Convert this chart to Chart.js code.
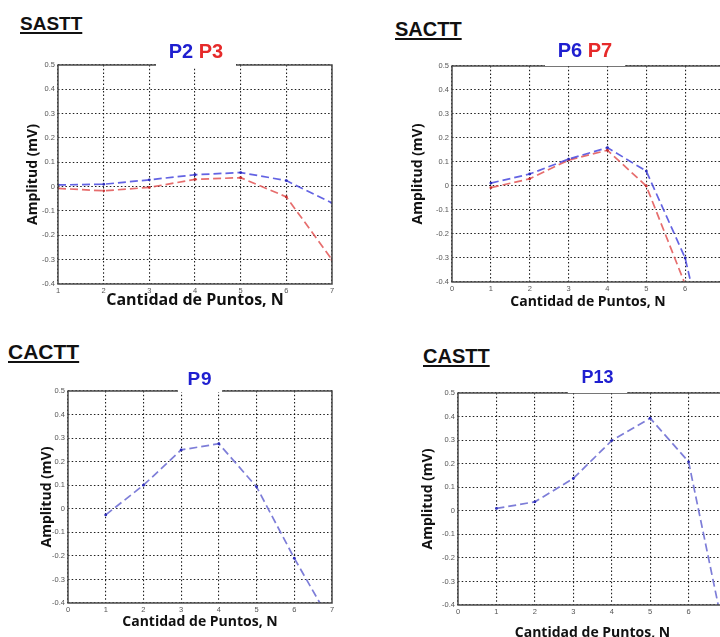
<!DOCTYPE html>
<html>
<head>
<meta charset="utf-8">
<script src="https://cdn.jsdelivr.net/npm/chart.js@4.4.1/dist/chart.umd.min.js"></script>
<style>
  html, body { margin:0; padding:0; background:#fff; }
  body { width:720px; height:637px; overflow:hidden; position:relative; }
  .box { position:absolute; }
  .head { position:absolute; font-family:"Liberation Sans", Arial, sans-serif; font-weight:bold; color:#111; text-decoration:underline; text-decoration-thickness:2px; text-underline-offset:2px; white-space:nowrap; z-index:5; }
  .lbl { position:absolute; background:#fff; font-family:"Liberation Sans", Arial, sans-serif; font-weight:bold; text-align:center; white-space:nowrap; z-index:5; }
  .b { color:#1f1fd0; }
  .r { color:#e62a2a; }
</style>
</head>
<body>
<div class="head" style="left:20px;top:14px;font-size:19px;line-height:19px;">SASTT</div>
<div class="head" style="left:395px;top:19px;font-size:20px;line-height:20px;">SACTT</div>
<div class="head" style="left:8px;top:341px;font-size:21px;line-height:21px;">CACTT</div>
<div class="head" style="left:423px;top:346px;font-size:20px;line-height:20px;">CASTT</div>

<div class="lbl" style="left:156px;top:41px;width:80px;height:25.5px;font-size:20px;line-height:20px;"><span class="b">P2</span> <span class="r">P3</span></div>
<div class="lbl" style="left:545px;top:40px;width:80px;height:25.5px;font-size:20px;line-height:20px;"><span class="b">P6</span> <span class="r">P7</span></div>
<div class="lbl" style="left:178px;top:369px;width:44px;height:22.5px;font-size:19px;line-height:19px;letter-spacing:1px;"><span class="b">P9</span></div>
<div class="lbl" style="left:568px;top:368px;width:59px;height:25px;font-size:18px;line-height:18px;"><span class="b">P13</span></div>

<div class="box" style="left:0px;top:57px;width:340px;height:253px;"><canvas id="c1"></canvas></div>
<div class="box" style="left:392px;top:58px;width:340px;height:254px;"><canvas id="c2"></canvas></div>
<div class="box" style="left:0px;top:383px;width:340px;height:249px;"><canvas id="c3"></canvas></div>
<div class="box" style="left:398px;top:384.5px;width:337px;height:258.5px;"><canvas id="c4"></canvas></div>

<script>
// ---------- data ----------
const N = [1, 2, 3, 4, 5, 6, 7];            // Cantidad de Puntos, N

// SASTT
const P2  = [0.007, 0.010, 0.028, 0.049, 0.058, 0.025, -0.067];
const P3  = [-0.007, -0.017, -0.003, 0.030, 0.037, -0.042, -0.300];
// SACTT
const P6  = [0.012, 0.050, 0.112, 0.160, 0.062, -0.300, -1.000];
const P7  = [-0.007, 0.030, 0.108, 0.149, 0.000, -0.410, -1.200];
// CACTT
const P9  = [-0.026, 0.100, 0.250, 0.276, 0.093, -0.210, -0.490];
// CASTT
const P13 = [0.010, 0.038, 0.137, 0.298, 0.393, 0.208, -0.580];

const Y_MIN = -0.4, Y_MAX = 0.5, Y_STEP = 0.1;
const X_RANGE_SASTT = [1, 7];
const X_RANGE_OTHERS = [0, 7];
const X_STEP = 1;

const X_TITLE = "Cantidad de Puntos, N";
const Y_TITLE = "Amplitud (mV)";

// ---------- styling ----------
const BLUE_LINE = "rgba(72,72,222,0.85)";
const RED_LINE  = "rgba(226,84,84,0.85)";
const LIGHT_BLUE_LINE = "rgba(118,118,214,0.95)";
const BLUE_PT = "#2a2ab8";
const RED_PT  = "#c83030";

const framePlugin = {
  id: "frame",
  afterDatasetsDraw(chart) {
    const a = chart.chartArea, ctx = chart.ctx;
    ctx.save();
    ctx.strokeStyle = "#4a4a4a";
    ctx.lineWidth = 1.5;
    ctx.setLineDash([]);
    ctx.strokeRect(a.left, a.top, a.right - a.left, a.bottom - a.top);
    ctx.restore();
  }
};

function series(values, line, pt) {
  return {
    data: N.map((n, i) => ({ x: n, y: values[i] })),
    borderColor: line,
    borderWidth: 1.7,
    borderDash: [8, 4],
    pointRadius: 1.4,
    pointBorderWidth: 0,
    pointBackgroundColor: pt,
    tension: 0,
    fill: false,
    clip: 0
  };
}

function makeChart(id, datasets, xRange, g) {
  new Chart(document.getElementById(id), {
    type: "line",
    data: { datasets },
    plugins: [framePlugin],
    options: {
      responsive: true,
      maintainAspectRatio: false,
      animation: false,
      events: [],
      layout: { padding: { top: 8, right: 8, bottom: 0, left: 0 } },
      plugins: { legend: { display: false }, tooltip: { enabled: false }, title: { display: false } },
      scales: {
        x: {
          type: "linear",
          min: xRange[0], max: xRange[1],
          afterFit: s => { s.height = g.xh; },
          ticks: { stepSize: X_STEP, maxRotation: 0, padding: 2, color: "#555",
                   font: { family: "Liberation Sans, Arial, sans-serif", size: 7.5 } },
          grid: { color: "rgba(0,0,0,0.88)", lineWidth: 1.1, drawTicks: false },
          border: { display: false, dash: [1.5, 2.2] },
          title: { display: true, text: X_TITLE, color: "#111",
                   font: { family: "Open Sans", weight: "bold", size: g.xts },
                   padding: { top: 0, bottom: g.xpb } }
        },
        y: {
          type: "linear",
          min: Y_MIN, max: Y_MAX,
          afterFit: s => { s.width = g.yw; },
          ticks: { stepSize: Y_STEP, padding: 3, color: "#555",
                   font: { family: "Liberation Sans, Arial, sans-serif", size: 7.5 },
                   callback: v => Math.abs(v) < 1e-9 ? "0" : (Math.round(v * 10) / 10).toFixed(1) },
          grid: { color: "rgba(0,0,0,0.88)", lineWidth: 1.1, drawTicks: false },
          border: { display: false, dash: [1.5, 2.2] },
          title: { display: true, text: Y_TITLE, color: "#111",
                   font: { family: "Open Sans", weight: "bold", size: 14 },
                   padding: { top: g.ypt, bottom: 0 } }
        }
      }
    }
  });
}

makeChart("c1", [series(P2, BLUE_LINE, BLUE_PT), series(P3, RED_LINE, RED_PT)], X_RANGE_SASTT,
          { yw: 58, xh: 26, ypt: 24.6, xts: 16, xpb: 0.4 });
makeChart("c2", [series(P6, BLUE_LINE, BLUE_PT), series(P7, RED_LINE, RED_PT)], X_RANGE_OTHERS,
          { yw: 60, xh: 30, ypt: 17.6, xts: 14, xpb: 1.6 });
makeChart("c3", [series(P9, LIGHT_BLUE_LINE, BLUE_PT)], X_RANGE_OTHERS,
          { yw: 68, xh: 29, ypt: 38.6, xts: 14, xpb: 1.6 });
makeChart("c4", [series(P13, LIGHT_BLUE_LINE, BLUE_PT)], X_RANGE_OTHERS,
          { yw: 60, xh: 38.5, ypt: 21.6, xts: 14, xpb: 1.6 });
</script>
</body>
</html>
